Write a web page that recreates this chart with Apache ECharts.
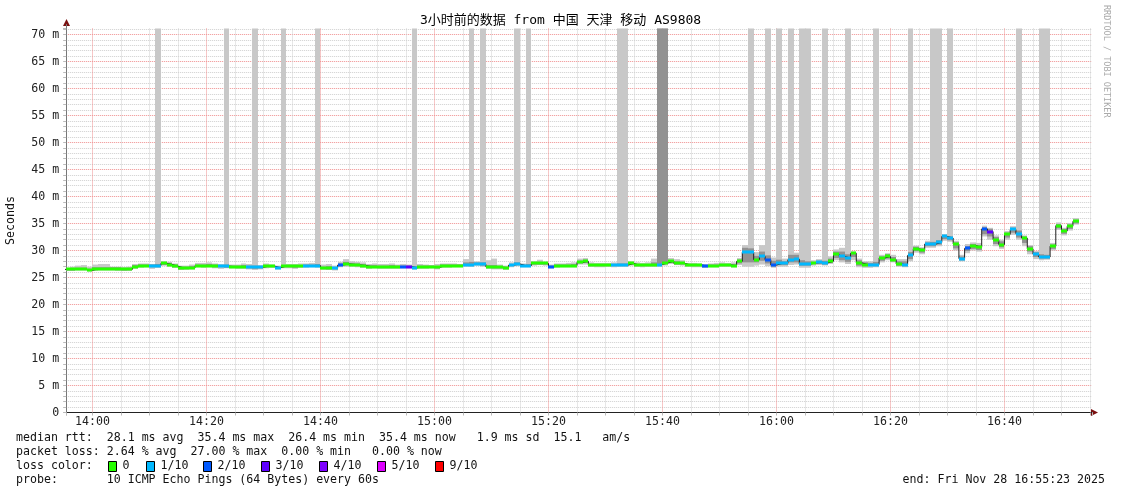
<!DOCTYPE html>
<html>
<head>
<meta charset="utf-8">
<script src="https://cdn.jsdelivr.net/npm/echarts@6/dist/echarts.min.js"></script>
<style>
  html, body { margin: 0; padding: 0; background: #fff; }
  #chart { width: 1121px; height: 494px; }
</style>
</head>
<body>
<div id="chart"></div>
<script>
// one step per minute; minute of day at the end of the step (836 = 13:56)
var firstMinute = 836;
var startMinute = 835 + 23 / 60;   // 13:55:23
var endMinute = 1015 + 23 / 60;    // 16:55:23

// median rtt (ms)
var median = [
  26.5,26.5,26.5,26.5,26.3,26.6,26.6,26.6,26.6,26.6,
  26.5,26.5,27.0,27.2,27.2,27.1,27.2,27.6,27.4,27.1,
  26.8,26.8,26.8,27.2,27.2,27.2,27.2,27.1,27.1,27.0,
  27.0,27.0,26.9,26.9,26.9,27.1,27.1,26.8,27.1,27.1,
  27.1,27.1,27.2,27.2,27.2,26.8,26.8,26.7,27.3,27.5,
  27.4,27.3,27.2,27.0,27.0,27.0,27.0,27.0,27.0,27.0,
  27.0,26.8,27.0,27.0,27.0,26.9,27.2,27.2,27.2,27.2,
  27.4,27.4,27.5,27.5,27.0,26.9,26.9,26.8,27.3,27.5,
  27.2,27.2,27.6,27.6,27.6,27.0,27.2,27.2,27.2,27.2,
  27.8,28.0,27.3,27.3,27.3,27.3,27.3,27.3,27.3,27.6,
  27.3,27.3,27.3,27.3,27.4,27.7,28.0,27.6,27.6,27.3,
  27.3,27.3,27.1,27.2,27.2,27.3,27.3,27.2,28.0,29.7,
  29.7,28.3,28.9,28.3,27.3,27.6,27.6,28.3,28.4,27.5,
  27.5,27.7,27.8,27.7,28.0,29.3,28.9,28.6,29.5,27.7,
  27.4,27.4,27.4,28.6,28.9,28.3,27.5,27.3,29.1,30.3,
  30.0,31.2,31.2,31.5,32.6,32.3,31.2,28.5,30.4,30.9,
  30.6,34.0,33.5,32.0,31.1,33.0,33.9,33.1,32.3,30.3,
  29.3,28.8,28.8,30.8,34.6,33.6,34.5,35.4
];

// lost pings out of 10
var lossTenths = [
  0,0,0,0,0,0,0,0,0,0,
  0,0,0,0,0,1,1,0,0,0,
  0,0,0,0,0,0,0,1,1,0,
  0,0,1,1,1,0,0,1,0,0,
  0,0,1,1,1,0,0,1,2,0,
  0,0,0,0,0,0,0,0,0,2,
  3,1,0,0,0,0,0,0,0,0,
  1,1,1,1,0,0,0,0,1,1,
  1,1,0,0,0,2,0,0,0,0,
  0,0,0,0,0,0,1,1,1,0,
  0,0,0,0,1,0,0,0,0,0,
  0,0,2,0,0,0,0,0,0,1,
  1,0,1,2,2,1,1,1,1,1,
  1,0,1,1,0,0,1,1,0,0,
  0,1,1,0,0,0,0,1,1,0,
  0,1,1,1,1,1,0,1,2,0,
  0,2,3,0,0,0,1,1,0,0,
  1,1,1,0,0,0,0,0
];

// smoke: fastest / slowest ping (ms), 80 = off the top of the graph
var smokeLo = [
  26.2,26.2,26.3,26.3,26.1,26.2,26.3,26.3,26.3,26.2,
  26.2,26.3,26.6,26.8,26.9,26.6,26.8,27.2,27.0,26.8,
  26.4,26.4,26.5,26.9,26.8,26.9,26.7,26.6,26.7,26.7,
  26.6,26.6,26.5,26.4,26.5,26.7,26.8,26.5,26.7,26.7,
  26.6,26.8,26.8,26.9,26.8,26.4,26.4,26.3,26.9,27.0,
  27.0,26.9,26.8,26.6,26.7,26.6,26.6,26.6,26.6,26.7,
  26.7,26.5,26.6,26.6,26.7,26.5,26.8,26.8,26.9,26.9,
  27.0,27.0,27.2,27.0,26.6,26.5,26.5,26.4,26.9,27.1,
  26.9,26.9,27.2,27.3,27.2,26.7,26.8,26.9,26.9,26.9,
  27.4,27.4,27.0,26.9,26.9,27.0,26.9,27.0,27.0,27.2,
  27.0,26.9,27.0,27.0,27.0,27.2,27.5,27.3,27.2,27.0,
  26.9,26.9,26.8,26.9,26.9,27.0,27.0,26.9,27.3,27.0,
  27.0,27.2,27.4,27.1,26.8,27.0,27.0,27.3,27.4,26.8,
  26.8,27.2,27.3,27.2,27.5,28.2,27.8,27.5,28.2,26.9,
  26.8,26.8,26.9,27.8,28.2,27.8,27.0,26.9,28.0,29.6,
  29.3,30.5,30.5,30.8,31.8,31.6,30.0,28.0,29.5,30.0,
  29.8,32.6,32.0,30.8,30.3,32.0,32.9,32.0,30.8,29.3,
  28.4,28.2,28.3,30.0,33.8,32.8,33.7,34.8
];
var smokeHi = [
  26.8,27.0,27.2,27.3,27.0,27.4,27.5,27.5,27.0,27.0,
  26.9,27.0,27.5,27.6,27.6,27.5,80,28.0,27.9,27.6,
  27.2,27.2,27.4,27.7,27.7,27.8,27.6,27.5,80,27.4,
  27.4,27.6,27.5,80,27.3,27.6,27.4,27.2,80,27.5,
  27.5,27.6,27.6,27.7,80,27.4,27.5,27.2,27.9,28.4,
  28.0,27.9,27.8,27.5,27.6,27.5,27.5,27.6,27.4,27.5,
  27.4,80,27.5,27.4,27.3,27.5,27.6,27.6,27.6,27.5,
  28.4,80,28.0,80,28.2,28.5,27.4,27.2,27.8,80,
  27.6,80,28.0,28.3,27.9,27.4,27.6,27.6,27.7,27.8,
  28.5,28.6,27.8,27.7,27.7,27.7,27.8,80,80,28.0,
  27.8,27.7,27.8,28.5,80,80,28.6,28.4,28.2,27.7,
  27.7,27.6,27.5,27.6,27.7,27.8,27.7,27.8,28.6,31.0,
  80,29.7,31.0,80,28.7,80,28.5,80,29.6,80,
  80,28.2,28.4,80,28.9,30.2,30.5,80,29.8,28.5,
  28.0,28.0,80,29.2,29.5,29.2,28.4,28.4,80,30.9,
  30.6,31.8,80,80,33.0,80,31.8,29.2,31.2,31.5,
  31.4,34.6,34.2,32.8,32.0,33.6,34.5,80,32.8,31.0,
  29.9,80,80,31.4,35.2,34.2,35.1,36.0
];
// denser middle part of the smoke (ms)
var coreLo = [
  26.3,26.3,26.4,26.4,26.2,26.4,26.4,26.4,26.4,26.4,
  26.3,26.3,26.8,27.0,27.0,26.9,26.9,27.3,27.2,26.9,
  26.5,26.6,26.6,27.0,27.0,27.0,26.9,26.9,26.8,26.8,
  26.8,26.8,26.7,26.6,26.7,26.9,26.9,26.6,26.9,26.9,
  26.8,26.9,27.0,27.0,27.0,26.6,26.5,26.5,27.1,27.3,
  27.2,27.1,27.0,26.8,26.8,26.8,26.8,26.8,26.8,26.8,
  26.8,26.6,26.8,26.8,26.8,26.7,27.0,27.0,27.0,27.0,
  27.2,27.1,27.3,27.2,26.8,26.7,26.7,26.6,27.1,27.3,
  27.0,27.0,27.4,27.4,27.4,26.8,27.0,27.0,27.0,27.0,
  27.6,27.7,27.1,27.1,27.1,27.1,27.1,27.1,27.1,27.4,
  27.1,27.1,27.1,27.1,27.2,27.5,27.7,27.4,27.4,27.1,
  27.1,27.1,26.9,27.0,27.0,27.1,27.1,27.0,27.6,27.8,
  27.8,27.8,28.1,27.6,27.0,27.3,27.3,27.8,27.8,27.2,
  27.2,27.5,27.5,27.4,27.7,28.6,28.2,27.9,28.8,27.2,
  27.1,27.1,27.1,28.1,28.5,28.0,27.2,27.1,28.4,29.9,
  29.6,30.8,30.8,31.1,32.1,31.9,30.4,28.2,29.9,30.3,
  30.1,33.0,32.6,31.2,30.6,32.4,33.3,32.4,31.4,29.8,
  28.8,28.5,28.5,30.3,34.1,33.1,34.0,35.0
];
var coreHi = [
  26.7,26.7,26.8,26.8,26.6,26.9,26.9,26.9,26.9,26.9,
  26.8,26.8,27.3,27.4,27.4,27.4,27.5,27.8,27.7,27.4,
  27.0,27.0,27.1,27.4,27.4,27.5,27.4,27.3,27.4,27.2,
  27.2,27.3,27.2,27.2,27.1,27.3,27.3,27.0,27.3,27.3,
  27.3,27.3,27.4,27.4,27.5,27.0,27.1,26.9,27.6,27.9,
  27.7,27.6,27.5,27.3,27.3,27.2,27.2,27.3,27.2,27.2,
  27.2,27.1,27.2,27.2,27.2,27.1,27.4,27.4,27.4,27.4,
  27.8,27.9,27.8,27.8,27.3,27.3,27.1,27.0,27.5,27.8,
  27.4,27.5,27.8,27.9,27.8,27.2,27.4,27.4,27.4,27.5,
  28.1,28.3,27.5,27.5,27.5,27.5,27.5,27.6,27.6,27.8,
  27.5,27.5,27.5,27.8,80,80,28.2,28.0,27.9,27.5,
  27.5,27.4,27.3,27.4,27.4,27.5,27.5,27.5,28.3,30.5,
  30.4,29.0,29.8,29.1,28.1,28.3,28.0,29.2,29.2,28.2,
  28.0,27.9,28.1,28.1,28.5,29.8,29.8,29.3,29.6,28.2,
  27.8,27.7,27.9,28.9,29.3,28.8,28.0,28.0,29.7,30.7,
  30.4,31.5,31.6,31.9,32.9,32.6,31.5,28.9,30.8,31.2,
  31.0,34.3,34.0,32.5,31.7,33.3,34.2,33.7,32.6,30.8,
  29.7,29.3,29.2,31.1,34.9,34.0,34.8,35.7
];

var yLabelValues = [0, 5, 10, 15, 20, 25, 30, 35, 40, 45, 50, 55, 60, 65, 70];
var xLabelValues = [840, 860, 880, 900, 920, 940, 960, 980, 1000];
var xLabels = ['14:00', '14:20', '14:40', '15:00', '15:20', '15:40', '16:00', '16:20', '16:40'];

var lossNames = ['0', '1/10', '2/10', '3/10', '4/10', '5/10', '9/10'];
var lossKeys = [0, 1, 2, 3, 4, 5, 9];
var lossColors = { 0: '#26ff00', 1: '#00b8ff', 2: '#0059ff', 3: '#5e00ff', 4: '#7e00ff', 5: '#dd00ff', 9: '#ff0000' };

// 5.4 px per ms, 5.7 px per minute; grid edges chosen so grid lines fall on pixel centres
var yMax = 384 / 5.4;
var mono = "'DejaVu Sans Mono', 'Noto Sans CJK SC', monospace";
var minorGrid = '#cfcfcf';
var majorGrid = '#f09090';

// grid line positions, padded with the axis ends (those end lines are not drawn)
var yMinor = [0];
for (var g = 1; g <= 71; g++) if (g % 5) yMinor.push(g);
yMinor.push(yMax);
var yMajor = [0].concat(yLabelValues.slice(1), [yMax]);
var xMinor = [startMinute];
for (var m = 845; m <= 1015; m += 5) if (m % 20) xMinor.push(m);
xMinor.push(endMinute);
var xMajor = [startMinute].concat(xLabelValues, [endMinute]);

var bandData = [], coreData = [], medData = [], lineData = [];
median.forEach(function (v, i) {
  var t = firstMinute + i;
  bandData.push([t, smokeLo[i], smokeHi[i]]);
  coreData.push([t, coreLo[i], coreHi[i]]);
  medData.push([t, v, lossTenths[i]]);
  lineData.push([t - 1, v]);
});
lineData.push([firstMinute + median.length - 1, median[median.length - 1]]);

function clipToGrid(rect, cs) {
  return echarts.graphic.clipRectByRect(rect, { x: cs.x, y: cs.y, width: cs.width, height: cs.height });
}

function bandRenderer(color) {
  return function (params, api) {
    var top = api.coord([api.value(0) - 1, api.value(2)]);
    var bottom = api.coord([api.value(0), api.value(1)]);
    var x0 = Math.round(top[0]), x1 = Math.round(bottom[0]);
    var shape = clipToGrid({ x: x0, y: top[1], width: x1 - x0, height: bottom[1] - top[1] }, params.coordSys);
    return shape && { type: 'rect', shape: shape, style: { fill: color } };
  };
}

function medianRenderer(params, api) {
  var a = api.coord([api.value(0) - 1, api.value(1)]);
  var b = api.coord([api.value(0), api.value(1)]);
  var x0 = Math.round(a[0]), x1 = Math.round(b[0]);
  var shape = clipToGrid({ x: x0, y: Math.round(a[1]) - 1.5, width: x1 - x0, height: 3 }, params.coordSys);
  return shape && { type: 'rect', shape: shape, style: { fill: lossColors[api.value(2)] } };
}

var chart = echarts.init(document.getElementById('chart'));

var gfx = [
  { type: 'text', left: 'center', top: 14, style: { text: '3小时前的数据 from 中国 天津 移动 AS9808', font: '13px ' + mono, fill: '#000' } },
  { type: 'text', x: 1106, y: 5, rotation: -Math.PI / 2, style: { text: 'RRDTOOL / TOBI OETIKER', font: '8.5px ' + mono, fill: '#aaa', align: 'left', verticalAlign: 'middle' } },
  { type: 'polygon', shape: { points: [[66.5, 19], [63, 26], [70, 26]] }, style: { fill: '#7a1010' } },
  { type: 'line', shape: { x1: 66.5, y1: 24, x2: 66.5, y2: 29 }, style: { stroke: '#777' } },
  { type: 'polygon', shape: { points: [[1098, 412.5], [1091, 409], [1091, 416]] }, style: { fill: '#7a1010' } },
  { type: 'line', shape: { x1: 1091, y1: 412.5, x2: 1093, y2: 412.5 }, style: { stroke: '#222' } },
  { type: 'text', x: 16, y: 438, style: { text: 'median rtt:  28.1 ms avg  35.4 ms max  26.4 ms min  35.4 ms now   1.9 ms sd  15.1   am/s', font: '11.6px ' + mono, fill: '#111', verticalAlign: 'middle' } },
  { type: 'text', x: 16, y: 452, style: { text: 'packet loss: 2.64 % avg  27.00 % max  0.00 % min   0.00 % now', font: '11.6px ' + mono, fill: '#111', verticalAlign: 'middle' } },
  { type: 'text', x: 16, y: 466, style: { text: 'loss color:', font: '11.6px ' + mono, fill: '#111', verticalAlign: 'middle' } },
  { type: 'text', x: 16, y: 480, style: { text: 'probe:       10 ICMP Echo Pings (64 Bytes) every 60s', font: '11.6px ' + mono, fill: '#111', verticalAlign: 'middle' } },
  { type: 'text', x: 1105, y: 480, style: { text: 'end: Fri Nov 28 16:55:23 2025', font: '11.6px ' + mono, fill: '#111', align: 'right', verticalAlign: 'middle' } }
];
var boxX = [108.5, 146.5, 203.5, 261.5, 319.5, 377.5, 435.5];
lossKeys.forEach(function (k, i) {
  gfx.push({ type: 'rect', shape: { x: boxX[i], y: 461.5, width: 8, height: 10 }, style: { fill: lossColors[k], stroke: '#000', lineWidth: 1 } });
  gfx.push({ type: 'text', x: boxX[i] + 14, y: 466, style: { text: lossNames[i], font: '11.6px ' + mono, fill: '#111', verticalAlign: 'middle' } });
});

var dotted = [1, 1];

chart.setOption({
  animation: false,
  backgroundColor: '#fff',
  grid: { left: 66.18, right: 28.82, top: 28.5, bottom: 81.5, outerBoundsMode: 'none', containLabel: false },
  xAxis: [
    {
      // minor grid (every 5 minutes)
      type: 'value', min: startMinute, max: endMinute,
      axisLine: { show: true, onZero: false, lineStyle: { color: '#222', width: 1 } },
      axisTick: { show: true, customValues: xMinor, length: 3, lineStyle: { color: '#bbb' } },
      axisLabel: { show: false },
      splitLine: { show: true, showMinLine: false, showMaxLine: false, lineStyle: { color: minorGrid, type: dotted, width: 1 } }
    },
    {
      // major grid and labels (every 20 minutes)
      type: 'value', min: startMinute, max: endMinute, position: 'bottom',
      axisLine: { show: false, onZero: false },
      axisTick: { show: true, customValues: xMajor, length: 3, lineStyle: { color: '#bbb' } },
      axisLabel: {
        customValues: xLabelValues,
        formatter: function (v) { return xLabels[xLabelValues.indexOf(v)]; },
        margin: 4, fontFamily: mono, fontSize: 11.6, color: '#222'
      },
      splitLine: { show: true, showMinLine: false, showMaxLine: false, lineStyle: { color: majorGrid, type: dotted, width: 1 } }
    }
  ],
  yAxis: [
    {
      type: 'value', min: 0, max: yMax,
      name: 'Seconds', nameLocation: 'middle', nameRotate: 90, nameGap: 49,
      nameTextStyle: { fontFamily: mono, fontSize: 11.6, color: '#111' },
      axisLine: { show: true, lineStyle: { color: '#777', width: 1 } },
      axisTick: { show: true, customValues: yMinor, length: 3, lineStyle: { color: '#bbb' } },
      axisLabel: { show: false },
      splitLine: { show: true, showMinLine: false, showMaxLine: false, lineStyle: { color: minorGrid, type: dotted, width: 1 } }
    },
    {
      type: 'value', min: 0, max: yMax, position: 'left',
      axisLine: { show: false },
      axisTick: { show: true, customValues: yMajor, length: 3, lineStyle: { color: '#bbb' } },
      axisLabel: {
        customValues: yLabelValues,
        formatter: function (v) { return v === 0 ? '0' : v + ' m'; },
        margin: 7, fontFamily: mono, fontSize: 11.6, color: '#222'
      },
      splitLine: { show: true, showMinLine: false, showMaxLine: false, lineStyle: { color: majorGrid, type: dotted, width: 1 } }
    }
  ],
  series: [
    { type: 'custom', name: 'smoke', z: 1, renderItem: bandRenderer('#c8c8c8'), data: bandData },
    { type: 'custom', name: 'core', z: 2, renderItem: bandRenderer('#929292'), data: coreData },
    { type: 'line', name: 'median', z: 3, step: 'end', symbol: 'none', data: lineData, lineStyle: { color: '#202020', width: 1 } },
    { type: 'custom', name: 'loss', z: 4, renderItem: medianRenderer, data: medData }
  ],
  graphic: gfx
});
</script>
</body>
</html>
